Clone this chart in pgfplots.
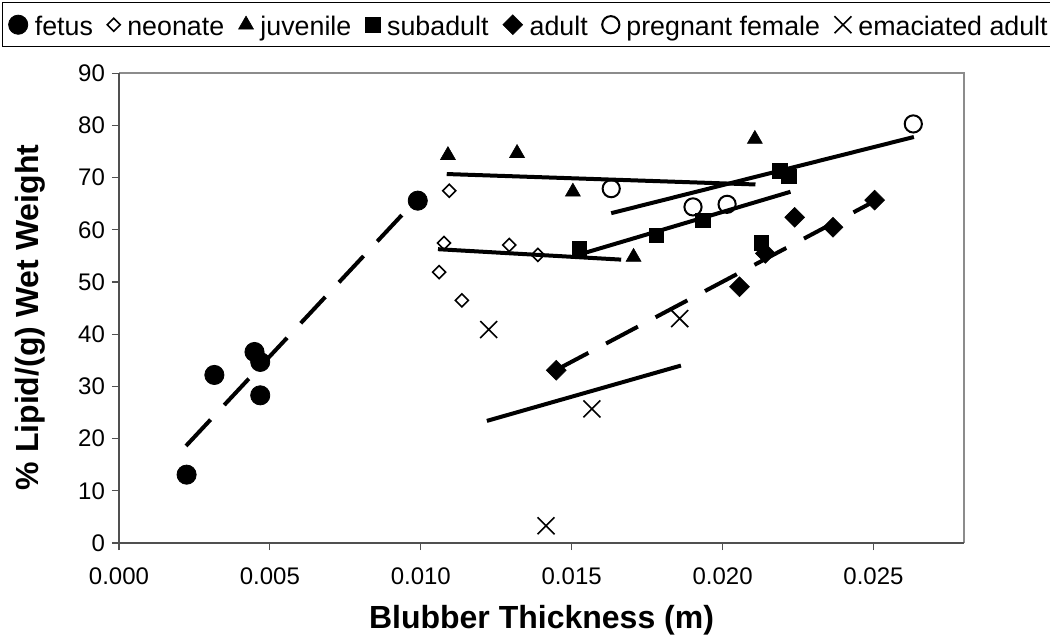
\documentclass[border=0pt]{standalone}
\usepackage{pgfplots}
\usepackage{pgfplotstable}
\pgfplotsset{compat=1.18}
\usepackage{fontspec}
\setmainfont{Liberation Sans}

\definecolor{axisgray}{HTML}{505050}
\definecolor{framegray}{HTML}{8C8C8C}

% uniform strut so all legend texts share one baseline
\newcommand{\lstrut}{\rule[-3pt]{0pt}{15.6pt}}

% Blubber thickness (m) against % lipid per g wet weight, by life stage
\pgfplotstableread{
x y
0.00224 13.1
0.00316 32.2
0.00449 36.6
0.00468 34.7
0.00468 28.3
0.00990 65.6
}\fetus
\pgfplotstableread{
x y
0.01094 67.5
0.01077 57.5
0.01293 57.1
0.01388 55.2
0.01061 51.9
0.01136 46.5
}\neonate
\pgfplotstableread{
x y
0.01090 74.3
0.01319 74.7
0.01504 67.3
0.01705 54.8
0.02107 77.4
}\juvenile
\pgfplotstableread{
x y
0.01526 56.5
0.01780 59.0
0.01934 61.8
0.02189 71.3
0.02220 70.3
0.02129 57.5
}\subadult
\pgfplotstableread{
x y
0.01449 33.1
0.02056 49.1
0.02142 55.5
0.02239 62.4
0.02366 60.5
0.02504 65.7
}\adult
\pgfplotstableread{
x y
0.01631 67.9
0.01902 64.4
0.02015 64.9
0.02632 80.3
}\pregnant
\pgfplotstableread{
x y
0.01225 40.9
0.01415 3.3
0.01567 25.7
0.01858 43.0
}\emaciated

\begin{document}
\begin{tikzpicture}
\path[use as bounding box] (0,0) rectangle (525pt,-319pt);
\begin{axis}[
  at={(59.5pt,-271.5pt)}, anchor=south west,
  scale only axis, width=422.5pt, height=234.85pt,
  xmin=0, xmax=0.028, ymin=0, ymax=90,
  xtick={0,0.005,0.01,0.015,0.02,0.025},
  ytick={0,10,...,90},
  scaled x ticks=false,
  tick label style={font=\fontsize{12}{14}\selectfont, text=black},
  xticklabel style={yshift=-5.5pt, /pgf/number format/.cd, fixed, fixed zerofill, precision=3},
  /pgf/number format/assume math mode=true,
  tick align=outside, xtick pos=left, ytick pos=left,
  major tick length=3.5pt,
  tick style={draw=axisgray, line width=0.6pt},
  axis line style={draw=none},
  clip=false,
  xlabel={\textbf{Blubber Thickness (m)}},
  ylabel={\textbf{\% Lipid/(g) Wet Weight}},
  label style={font=\fontsize{16}{18}\selectfont},
  xlabel style={at={(axis description cs:0.5,0)}, anchor=base, yshift=-42.5pt},
  ylabel style={at={(axis description cs:-0.1053,0.48)}, anchor=center},
  legend columns=-1,
  legend style={at={(axis description cs:-0.13846,1.1518)}, anchor=north west,
    draw=black, line width=0.6pt, font=\fontsize{13.4}{15}\selectfont,
    inner xsep=3pt, inner ysep=1pt,
    nodes={inner xsep=0pt, inner ysep=3pt},
    /tikz/every odd column/.append style={column sep=3.5pt},
    /tikz/every even column/.append style={column sep=7.2pt}},
  legend image code/.code={\draw[#1] plot coordinates {(0pt,0pt)};},
]
% frame of the plot area
\draw[framegray, line width=1pt] (rel axis cs:0,1) -- (rel axis cs:1,1) -- (rel axis cs:1,0);
\draw[axisgray, line width=1pt] (rel axis cs:0,1) -- (rel axis cs:0,0) -- (rel axis cs:1,0);

% trend lines
\addplot[forget plot, black, line width=2pt, dash pattern=on 18pt off 10pt]
  coordinates {(0.00222,18.6) (0.0099,66.1)};
\addplot[forget plot, black, line width=2pt]
  coordinates {(0.01057,56.3) (0.01664,54.3)};
\addplot[forget plot, black, line width=2pt]
  coordinates {(0.01086,70.7) (0.02109,68.7)};
\addplot[forget plot, black, line width=2pt]
  coordinates {(0.01538,55.5) (0.02225,67.3)};
\addplot[forget plot, black, line width=2pt, dash pattern=on 18pt off 10pt]
  coordinates {(0.0145,33.2) (0.0251,65.7)};
\addplot[forget plot, black, line width=2pt]
  coordinates {(0.01631,63.2) (0.02634,77.8)};
\addplot[forget plot, black, line width=2pt]
  coordinates {(0.01219,23.4) (0.01862,34.0)};

% observations
\addplot[only marks, mark=*, mark size=4.8pt, mark options={fill=black, draw=black, line width=0.4pt}] table {\fetus};
\addlegendentry{\lstrut fetus}
\addplot[only marks, mark=square, mark size=2.3pt, mark options={rotate=45, draw=black, fill=white, line width=0.8pt}] table {\neonate};
\addlegendentry{\lstrut neonate}
\addplot[only marks, mark=triangle*, mark size=4.3pt, mark options={fill=black, draw=black, line width=0.3pt}] table {\juvenile};
\addlegendentry{\lstrut juvenile}
\addplot[only marks, mark=square*, mark size=3.6pt, mark options={fill=black, draw=black, line width=0.3pt}] table {\subadult};
\addlegendentry{\lstrut subadult}
\addplot[only marks, mark=square*, mark size=3.5pt, mark options={rotate=45, fill=black, draw=black, line width=0.3pt}] table {\adult};
\addlegendentry{\lstrut adult}
\addplot[only marks, mark=o, mark size=4.3pt, mark options={draw=black, fill=white, line width=1pt}] table {\pregnant};
\addlegendentry{\lstrut pregnant female}
\addplot[only marks, mark=x, mark size=6pt, mark options={draw=black, line width=0.8pt}] table {\emaciated};
\addlegendentry{\lstrut emaciated adult}
\end{axis}
\end{tikzpicture}
\end{document}
